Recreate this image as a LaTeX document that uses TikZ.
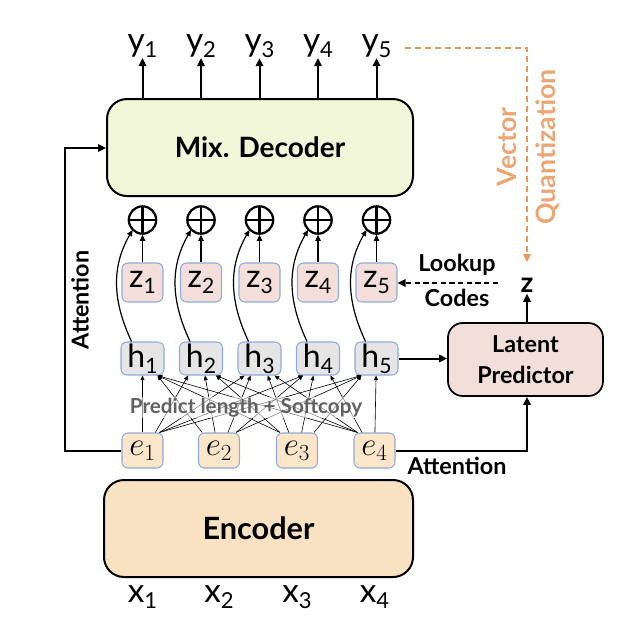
\documentclass[tikz,border=0pt]{standalone}
\usepackage{fontspec}
\setmainfont{Lato}
\usetikzlibrary{arrows.meta,calc}
\definecolor{decfill}{HTML}{F1F6D8}
\definecolor{encfill}{HTML}{F8E2C2}
\definecolor{efill}{HTML}{FBE6CA}
\definecolor{zfill}{HTML}{F4DEDA}
\definecolor{hfill}{HTML}{E5E5E5}
\definecolor{lpfill}{HTML}{F2DFDA}
\definecolor{boxblue}{HTML}{8FAADC}
\definecolor{vqorange}{HTML}{E8975E}
\definecolor{vqtext}{HTML}{ECA676}
\newcommand{\sbs}[1]{\raisebox{-0.2em}{\fontsize{0.66em}{0.66em}\selectfont #1}}
\tikzset{
  bigbox/.style={draw=black, line width=1.5pt, rounded corners=15pt, inner sep=0pt},
  smallbox/.style={draw=boxblue, line width=0.8pt, rounded corners=4.5pt, inner sep=0pt},
  thick arrow/.style={line width=1.5pt, -{Triangle[length=6pt,width=5.5pt]}},
  mid arrow/.style={line width=0.9pt, -{Triangle[length=4.5pt,width=4pt]}},
  thin arrow/.style={line width=0.45pt, -{Triangle[length=3.5pt,width=3pt]}},
  lbl/.style={inner sep=0pt, font=\fontsize{17.5}{20}\selectfont\bfseries},
  seq/.style={inner sep=0pt, font=\fontsize{25}{27}\selectfont},
  oplus/.style={circle, draw=black, line width=1.7pt, minimum size=20.5pt, inner sep=0pt,
    path picture={\draw[line width=1.7pt] (path picture bounding box.north) -- (path picture bounding box.south)
      (path picture bounding box.west) -- (path picture bounding box.east);}},
}
\begin{document}
\begin{tikzpicture}[x=0.75pt,y=-0.75pt]
\useasboundingbox (0,0) rectangle (624,626);
% big boxes
\node[bigbox, fill=decfill, minimum width=229.5pt, minimum height=72.75pt, font=\fontsize{21}{24}\selectfont\bfseries] (dec) at (260,147.5) {Mix. Decoder};
\node[bigbox, fill=encfill, minimum width=231.75pt, minimum height=72.75pt, font=\fontsize{23}{26}\selectfont\bfseries] (enc) at (258.5,528.5) {Encoder};
\node[bigbox, line width=1.3pt, rounded corners=11pt, fill=lpfill, minimum width=116.25pt, minimum height=54.75pt, align=center, font=\fontsize{17.5}{23}\selectfont\bfseries] (lp) at (525.5,359.5) {Latent\\Predictor};
% columns
\foreach \j/\x in {1/142.5,2/201,3/259.5,4/318,5/376.5}{
  \node[seq] (y\j) at (\x,46) {y\sbs{\j}};
  \node[oplus] (p\j) at (\x,220) {};
  \node[smallbox, fill=zfill, minimum width=30.75pt, minimum height=29.25pt, font=\fontsize{24}{26}\selectfont] (z\j) at (\x,282.5) {z\sbs{\j}};
  \node[smallbox, fill=hfill, minimum width=32.25pt, minimum height=24.75pt, font=\fontsize{24}{26}\selectfont] (h\j) at (\x,358.5) {h\sbs{\j}};
}
\foreach \i/\x in {1/142.5,2/219,3/297,4/374.5}{
  \node[smallbox, fill=efill, minimum width=30.75pt, minimum height=26.25pt] (e\i) at (\x,450.5) {\fontsize{25}{26}\selectfont$e_{\i}$};
  \node[seq] (x\i) at (\x,597) {x\sbs{\i}};
}
% y arrows
\foreach \j in {1,...,5}{
  \draw[thick arrow] (dec.north -| y\j) -- (y\j.south);
  \draw[mid arrow] (z\j) -- (p\j);
  \draw[mid arrow] ($(h\j.north)+(-11,0)$) to[out=115, in=-120] ($(p\j)+(-10,10)$);
}
% e -> h crossing arrows
\foreach \i/\ex in {1/142.5,2/219,3/297,4/374.5}{
  \foreach \j/\hx in {1/142.5,2/201,3/259.5,4/318,5/376.5}{
    \pgfmathsetmacro\s{max(-17,min(17,0.22*(\hx-\ex)))}
    \pgfmathsetmacro\t{max(-15,min(15,0.22*(\ex-\hx)))}
    \draw[thin arrow] ($(e\i.north)+(\s,0)$) -- ($(h\j.south)+(\t,0)$);
  }
}
\node[inner sep=1pt, fill=white, fill opacity=0.55, text opacity=1, text=black!62, font=\fontsize{15.5}{17}\selectfont\bfseries] (pl) at (246,407.5) {Predict length + Softcopy};
% attention left
\coordinate (al1) at (65,450.5);
\coordinate (al2) at (65,148);
\draw[thick arrow] (e1.west) -- (al1) -- (al2) -- (dec.west |- al2);
\node[lbl, rotate=90] (att1) at (80,300) {Attention};
% attention right
\coordinate (ar1) at (527,450.5);
\draw[thick arrow] (e4.east) -- (ar1) -- (lp.south -| ar1);
\node[lbl] (att2) at (457,466) {Attention};
% h5 -> latent predictor
\draw[thick arrow] (h5.east) -- (lp.west |- h5.east);
% z
\node[inner sep=1pt, font=\fontsize{21}{22}\selectfont\bfseries] (zz) at (527,285) {z};
\draw[thick arrow] (lp.north -| zz) -- (zz.south);
\coordinate (zl) at (498,283);
\draw[line width=1.3pt, dash pattern=on 4pt off 2.5pt, -{Triangle[length=6pt,width=5.5pt]}] (zl) -- (z5.east |- zl);
\node[lbl] (lk) at (457,265) {Lookup};
\node[lbl] (cd) at (457,297.5) {Codes};
% vector quantization
\coordinate (vq1) at (527,48);
\draw[vqorange, line width=1.4pt, dash pattern=on 4.5pt off 3pt, -{Triangle[length=6pt,width=5.5pt]}] (405,48) -- (vq1) -- ($(zz.north)+(0,-14)$);
\node[rotate=90, inner sep=0pt, text=vqtext, font=\fontsize{20}{22}\selectfont\bfseries] (vqa) at (507,147) {Vector};
\node[rotate=90, inner sep=0pt, text=vqtext, font=\fontsize{20}{22}\selectfont\bfseries] (vqb) at (547,147) {Quantization};
\end{tikzpicture}
\end{document}
